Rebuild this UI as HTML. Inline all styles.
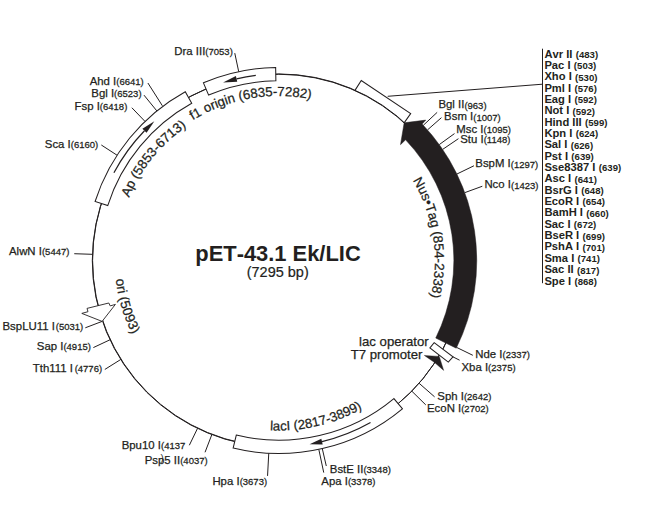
<!DOCTYPE html>
<html><head><meta charset="utf-8"><title>pET-43.1 Ek/LIC</title>
<style>
html,body{margin:0;padding:0;background:#fff;}
body{width:660px;height:529px;overflow:hidden;}
svg{display:block;}
text{font-family:"Liberation Sans",sans-serif;fill:#231f20;font-kerning:none;}
</style></head><body>
<svg width="660" height="529" viewBox="0 0 660 529">
<defs>
<path id="cAp" d="M128.99,197.66 A162.5,162.5 0 0 1 250.63,100.47"/>
<path id="cF1" d="M192.9,120.24 A164.5,164.5 0 0 1 384.59,134.49"/>
<path id="cNus" d="M412.71,180.39 A156,156 0 0 1 379.12,380"/>
<path id="cOri" d="M115.74,279.37 A164.2,164.2 0 0 0 222.69,414.8"/>
<path id="cLac" d="M269.95,430.27 A170,170 0 0 0 426.07,345.5"/>
</defs>
<circle cx="278.99" cy="260.36" r="186.4" fill="none" stroke="#231f20" stroke-width="1.0"/>
<circle cx="278.71" cy="260.64" r="186.4" fill="none" stroke="#231f20" stroke-width="1.0"/>
<path d="M203.44,82.84 A193,193 0 0 1 275.65,67.53 L275.87,80.82 A179.7,179.7 0 0 0 208.64,95.09 Z" fill="#fff" stroke="#231f20" stroke-width="1.05"/>
<path d="M95.09,201.5 A193,193 0 0 1 185.28,91.7 L191.73,103.33 A179.7,179.7 0 0 0 107.75,205.57 Z" fill="#fff" stroke="#231f20" stroke-width="1.05"/>
<path d="M402.39,408.78 A193,193 0 0 1 233.14,448.01 L236.29,435.09 A179.7,179.7 0 0 0 393.88,398.56 Z" fill="#fff" stroke="#231f20" stroke-width="1.05"/>
<polyline points="354.96,90.35 361.27,80.47 410.68,113.57 404.3,122.63" fill="none" stroke="#231f20" stroke-width="1.05"/>
<path d="M456.26,348.18 A197.9,197.9 0 0 0 422.16,124.02 L425.76,120.11 L404.16,122.78 L400.51,144.64 L405.58,139.82 A175,175 0 0 1 435.74,338.04 Z" fill="#231f20" stroke="#231f20" stroke-width="0.5"/>
<path d="M434.15,342.7 L453,356.9 L448.3,362.1 L429.9,347.9 Z" fill="#fff" stroke="#231f20" stroke-width="1.05"/>
<path d="M439.3,356.4 L424.3,355.4 L434.6,362.6 L443.7,370.4 Z" fill="#231f20" stroke="#231f20" stroke-width="0.4"/>
<path d="M102.1,321.4 L115.4,304.4 L110.2,305.9 L108.8,303 L87,308.4 L88,311.7 L81.8,313.4 Z" fill="#fff" stroke="#231f20" stroke-width="0.9" stroke-linejoin="miter"/>
<path d="M255.8,75.43 A186.5,186.5 0 0 0 236.58,78.85" fill="none" stroke="#231f20" stroke-width="1.2"/>
<path d="M235.9,75.93 L223.08,82.53 L237.26,81.78 Z" fill="#231f20"/>
<path d="M113.92,172.8 A186.8,186.8 0 0 1 144.48,130.74" fill="none" stroke="#231f20" stroke-width="1.2"/>
<path d="M142.39,128.72 L154.34,121.25 L146.56,132.75 Z" fill="#231f20"/>
<path d="M370.54,422.56 A186.2,186.2 0 0 1 322,441.63" fill="none" stroke="#231f20" stroke-width="1.2"/>
<path d="M322.67,444.45 L309.58,444.15 L321.33,438.81 Z" fill="#231f20"/>
<line x1="238.72" y1="71.72" x2="234.77" y2="53.13" stroke="#231f20" stroke-width="1"/>
<line x1="156.87" y1="110.94" x2="143.97" y2="95.13" stroke="#231f20" stroke-width="1"/>
<line x1="145.02" y1="121.43" x2="131.85" y2="107.74" stroke="#231f20" stroke-width="1"/>
<line x1="117.08" y1="155.24" x2="101.32" y2="144.99" stroke="#231f20" stroke-width="1"/>
<line x1="92.55" y1="254.32" x2="74.26" y2="253.71" stroke="#231f20" stroke-width="1"/>
<line x1="110.12" y1="339.72" x2="93.37" y2="347.58" stroke="#231f20" stroke-width="1"/>
<line x1="120.86" y1="359.41" x2="104.84" y2="369.44" stroke="#231f20" stroke-width="1"/>
<line x1="197.58" y1="428.25" x2="189.34" y2="445.26" stroke="#231f20" stroke-width="1"/>
<line x1="211.9" y1="434.46" x2="205.04" y2="452.29" stroke="#231f20" stroke-width="1"/>
<line x1="268.75" y1="453.24" x2="267.56" y2="475.9" stroke="#231f20" stroke-width="1"/>
<line x1="322.27" y1="448.55" x2="326.29" y2="465.99" stroke="#231f20" stroke-width="1"/>
<line x1="318.81" y1="449.32" x2="323.74" y2="472.6" stroke="#231f20" stroke-width="1"/>
<line x1="419.1" y1="383.28" x2="434.6" y2="396.85" stroke="#231f20" stroke-width="1"/>
<line x1="411.8" y1="391.15" x2="425.78" y2="404.89" stroke="#231f20" stroke-width="1"/>
<line x1="456.65" y1="347.41" x2="472.82" y2="355.31" stroke="#231f20" stroke-width="1"/>
<line x1="464.76" y1="192.65" x2="482.32" y2="186.24" stroke="#231f20" stroke-width="1"/>
<line x1="456.87" y1="174.06" x2="473.96" y2="165.76" stroke="#231f20" stroke-width="1"/>
<line x1="442.63" y1="149.41" x2="458.43" y2="138.68" stroke="#231f20" stroke-width="1"/>
<line x1="439.26" y1="144.6" x2="454.5" y2="133.59" stroke="#231f20" stroke-width="1"/>
<line x1="427.53" y1="129.89" x2="441.42" y2="117.68" stroke="#231f20" stroke-width="1"/>
<line x1="423.35" y1="125.28" x2="437.15" y2="112.37" stroke="#231f20" stroke-width="1"/>
<line x1="147.9" y1="83" x2="162.4" y2="105.8" stroke="#231f20" stroke-width="1"/>
<line x1="453" y1="356.9" x2="459.6" y2="360.2" stroke="#231f20" stroke-width="1"/>
<line x1="85.3" y1="327.8" x2="102.1" y2="321.4" stroke="#231f20" stroke-width="1"/>
<line x1="387.7" y1="96.3" x2="542.5" y2="84.2" stroke="#231f20" stroke-width="1"/>
<line x1="542.5" y1="48.7" x2="542.5" y2="283.2" stroke="#231f20" stroke-width="1"/>
<text x="174.3" y="55.4" font-size="11.4" stroke="#231f20" stroke-width="0.25">Dra III</text>
<text transform="translate(205.34,55.4) scale(1,1.04)" font-size="9.5" stroke="#231f20" stroke-width="0.25">(7053)</text>
<text x="89.7" y="85.2" font-size="11.4" stroke="#231f20" stroke-width="0.25">Ahd I</text>
<text transform="translate(116.32,85.2) scale(1,1.04)" font-size="9.5" stroke="#231f20" stroke-width="0.25">(6641)</text>
<text x="91.3" y="97.3" font-size="11.4" stroke="#231f20" stroke-width="0.25">Bgl I</text>
<text transform="translate(114.11,97.3) scale(1,1.04)" font-size="9.5" stroke="#231f20" stroke-width="0.25">(6523)</text>
<text x="74.5" y="109.7" font-size="11.4" stroke="#231f20" stroke-width="0.25">Fsp I</text>
<text transform="translate(99.84,109.7) scale(1,1.04)" font-size="9.5" stroke="#231f20" stroke-width="0.25">(6418)</text>
<text x="44.8" y="148.4" font-size="11.4" stroke="#231f20" stroke-width="0.25">Sca I</text>
<text transform="translate(70.78,148.4) scale(1,1.04)" font-size="9.5" stroke="#231f20" stroke-width="0.25">(6160)</text>
<text x="9" y="255.2" font-size="11.4" stroke="#231f20" stroke-width="0.25">AlwN I</text>
<text transform="translate(41.94,255.2) scale(1,1.04)" font-size="9.5" stroke="#231f20" stroke-width="0.25">(5447)</text>
<text x="2.5" y="329.7" font-size="11.4" stroke="#231f20" stroke-width="0.25" style="font-kerning:normal">BspLU11 I</text>
<text transform="translate(55.73,329.7) scale(1,1.04)" font-size="9.5" stroke="#231f20" stroke-width="0.25">(5031)</text>
<text x="36.8" y="349.8" font-size="11.4" stroke="#231f20" stroke-width="0.25">Sap I</text>
<text transform="translate(63.42,349.8) scale(1,1.04)" font-size="9.5" stroke="#231f20" stroke-width="0.25">(4915)</text>
<text x="32.8" y="371.6" font-size="11.4" stroke="#231f20" stroke-width="0.25" style="font-kerning:normal">Tth111 I</text>
<text transform="translate(74.63,371.6) scale(1,1.04)" font-size="9.5" stroke="#231f20" stroke-width="0.25">(4776)</text>
<text x="121.7" y="448.6" font-size="11.4" stroke="#231f20" stroke-width="0.25">Bpu10 I</text>
<text transform="translate(161,448.6) scale(1,1.04)" font-size="9.5" stroke="#231f20" stroke-width="0.25">(4137</text>
<text x="144.7" y="464.2" font-size="11.4" stroke="#231f20" stroke-width="0.25">Psp5 II</text>
<text transform="translate(180.19,464.2) scale(1,1.04)" font-size="9.5" stroke="#231f20" stroke-width="0.25">(4037)</text>
<text x="212.4" y="485.2" font-size="11.4" stroke="#231f20" stroke-width="0.25">Hpa I</text>
<text transform="translate(239.65,485.2) scale(1,1.04)" font-size="9.5" stroke="#231f20" stroke-width="0.25">(3673)</text>
<text x="329.8" y="473.2" font-size="11.4" stroke="#231f20" stroke-width="0.25">BstE II</text>
<text transform="translate(363.38,473.2) scale(1,1.04)" font-size="9.5" stroke="#231f20" stroke-width="0.25">(3348)</text>
<text x="321.3" y="485.3" font-size="11.4" stroke="#231f20" stroke-width="0.25">Apa I</text>
<text transform="translate(347.92,485.3) scale(1,1.04)" font-size="9.5" stroke="#231f20" stroke-width="0.25">(3378)</text>
<text x="437.3" y="399.7" font-size="11.4" stroke="#231f20" stroke-width="0.25">Sph I</text>
<text transform="translate(463.92,399.7) scale(1,1.04)" font-size="9.5" stroke="#231f20" stroke-width="0.25">(2642)</text>
<text x="427" y="411.8" font-size="11.4" stroke="#231f20" stroke-width="0.25">EcoN I</text>
<text transform="translate(461.21,411.8) scale(1,1.04)" font-size="9.5" stroke="#231f20" stroke-width="0.25">(2702)</text>
<text x="461.5" y="370.9" font-size="11.4" stroke="#231f20" stroke-width="0.25">Xba I</text>
<text transform="translate(488.12,370.9) scale(1,1.04)" font-size="9.5" stroke="#231f20" stroke-width="0.25">(2375)</text>
<text x="475.3" y="357.9" font-size="11.4" stroke="#231f20" stroke-width="0.25">Nde I</text>
<text transform="translate(502.55,357.9) scale(1,1.04)" font-size="9.5" stroke="#231f20" stroke-width="0.25">(2337)</text>
<text x="484.4" y="187.7" font-size="11.4" stroke="#231f20" stroke-width="0.25">Nco I</text>
<text transform="translate(511.01,188.6) scale(1,1.04)" font-size="9.5" stroke="#231f20" stroke-width="0.25">(1423)</text>
<text x="475.3" y="167.3" font-size="11.4" stroke="#231f20" stroke-width="0.25">BspM I</text>
<text transform="translate(510.77,168.2) scale(1,1.04)" font-size="9.5" stroke="#231f20" stroke-width="0.25">(1297)</text>
<text x="460.2" y="143.4" font-size="11.4" stroke="#231f20" stroke-width="0.25">Stu I</text>
<text transform="translate(483.65,143.4) scale(1,1.04)" font-size="9.5" stroke="#231f20" stroke-width="0.25" style="font-kerning:normal">(1148)</text>
<text x="456.3" y="132.7" font-size="11.4" stroke="#231f20" stroke-width="0.25">Msc I</text>
<text transform="translate(483.53,132.7) scale(1,1.04)" font-size="9.5" stroke="#231f20" stroke-width="0.25">(1095)</text>
<text x="444.1" y="120" font-size="11.4" stroke="#231f20" stroke-width="0.25">Bsm I</text>
<text transform="translate(473.23,120.6) scale(1,1.04)" font-size="9.5" stroke="#231f20" stroke-width="0.25">(1007)</text>
<text x="438.4" y="108.2" font-size="11.4" stroke="#231f20" stroke-width="0.25">Bgl II</text>
<text transform="translate(464.38,108.7) scale(1,1.04)" font-size="9.5" stroke="#231f20" stroke-width="0.25">(963)</text>
<text x="160.6" y="460.6" font-size="9.6">)</text>
<text x="359.1" y="345.8" font-size="13.2" stroke="#231f20" stroke-width="0.25">lac operator</text>
<text x="350.7" y="359.4" font-size="13.2" stroke="#231f20" stroke-width="0.25">T7 promoter</text>
<text x="544.4" y="57.6" font-size="11.2" font-weight="bold">Avr II</text>
<text transform="translate(575.72,58) scale(1,1.04)" font-size="9.6" font-weight="bold">(483)</text>
<text x="544.4" y="68.95" font-size="11.2" font-weight="bold">Pac I</text>
<text transform="translate(573.86,69.35) scale(1,1.04)" font-size="9.6" font-weight="bold">(503)</text>
<text x="544.4" y="80.29" font-size="11.2" font-weight="bold">Xho I</text>
<text transform="translate(575.09,80.69) scale(1,1.04)" font-size="9.6" font-weight="bold">(530)</text>
<text x="544.4" y="91.64" font-size="11.2" font-weight="bold">Pml I</text>
<text transform="translate(574.48,92.04) scale(1,1.04)" font-size="9.6" font-weight="bold">(576)</text>
<text x="544.4" y="102.98" font-size="11.2" font-weight="bold">Eag I</text>
<text transform="translate(574.48,103.38) scale(1,1.04)" font-size="9.6" font-weight="bold">(592)</text>
<text x="544.4" y="114.33" font-size="11.2" font-weight="bold">Not I</text>
<text transform="translate(572.59,114.73) scale(1,1.04)" font-size="9.6" font-weight="bold">(592)</text>
<text x="544.4" y="125.67" font-size="11.2" font-weight="bold">Hind III</text>
<text transform="translate(585.04,126.07) scale(1,1.04)" font-size="9.6" font-weight="bold">(599)</text>
<text x="544.4" y="137.02" font-size="11.2" font-weight="bold">Kpn I</text>
<text transform="translate(575.71,137.42) scale(1,1.04)" font-size="9.6" font-weight="bold">(624)</text>
<text x="544.4" y="148.36" font-size="11.2" font-weight="bold">Sal I</text>
<text transform="translate(570.75,148.76) scale(1,1.04)" font-size="9.6" font-weight="bold">(626)</text>
<text x="544.4" y="159.71" font-size="11.2" font-weight="bold">Pst I</text>
<text transform="translate(571.36,160.11) scale(1,1.04)" font-size="9.6" font-weight="bold">(639)</text>
<text x="544.4" y="171.05" font-size="11.2" font-weight="bold">Sse8387 I</text>
<text transform="translate(598.78,171.45) scale(1,1.04)" font-size="9.6" font-weight="bold">(639)</text>
<text x="544.4" y="182.4" font-size="11.2" font-weight="bold">Asc I</text>
<text transform="translate(574.48,182.8) scale(1,1.04)" font-size="9.6" font-weight="bold">(641)</text>
<text x="544.4" y="193.74" font-size="11.2" font-weight="bold">BsrG I</text>
<text transform="translate(581.32,194.14) scale(1,1.04)" font-size="9.6" font-weight="bold">(648)</text>
<text x="544.4" y="205.09" font-size="11.2" font-weight="bold">EcoR I</text>
<text transform="translate(582.56,205.49) scale(1,1.04)" font-size="9.6" font-weight="bold">(654)</text>
<text x="544.4" y="216.43" font-size="11.2" font-weight="bold">BamH I</text>
<text transform="translate(586.3,216.83) scale(1,1.04)" font-size="9.6" font-weight="bold">(660)</text>
<text x="544.4" y="227.78" font-size="11.2" font-weight="bold">Sac I</text>
<text transform="translate(573.86,228.18) scale(1,1.04)" font-size="9.6" font-weight="bold">(672)</text>
<text x="544.4" y="239.12" font-size="11.2" font-weight="bold">BseR I</text>
<text transform="translate(582.57,239.52) scale(1,1.04)" font-size="9.6" font-weight="bold">(699)</text>
<text x="544.4" y="250.47" font-size="11.2" font-weight="bold">PshA I</text>
<text transform="translate(582.56,250.87) scale(1,1.04)" font-size="9.6" font-weight="bold">(701)</text>
<text x="544.4" y="261.81" font-size="11.2" font-weight="bold">Sma I</text>
<text transform="translate(577.59,262.21) scale(1,1.04)" font-size="9.6" font-weight="bold">(741)</text>
<text x="544.4" y="273.16" font-size="11.2" font-weight="bold">Sac II</text>
<text transform="translate(576.98,273.56) scale(1,1.04)" font-size="9.6" font-weight="bold">(817)</text>
<text x="544.4" y="284.5" font-size="11.2" font-weight="bold">Spe I</text>
<text transform="translate(574.48,284.9) scale(1,1.04)" font-size="9.6" font-weight="bold">(868)</text>
<text transform="translate(278.0,261.1) scale(1,1.04)" font-size="21.9" font-weight="bold" text-anchor="middle">pET-43.1 Ek/LIC</text>
<text transform="translate(277.7,276.6) scale(1,1.03)" font-size="14.5" text-anchor="middle" stroke="#231f20" stroke-width="0.2">(7295 bp)</text>
<text font-size="13.3" stroke="#231f20" stroke-width="0.25"><textPath href="#cAp">Ap (5853-6713)</textPath></text>
<text font-size="13.2" stroke="#231f20" stroke-width="0.25"><textPath href="#cF1">f1 origin (6835-7282)</textPath></text>
<text font-size="13.4" stroke="#231f20" stroke-width="0.25"><textPath href="#cNus">Nus•Tag (854-2338)</textPath></text>
<text font-size="13.5" stroke="#231f20" stroke-width="0.25"><textPath href="#cOri">ori (5093)</textPath></text>
<text font-size="13.2" stroke="#231f20" stroke-width="0.25"><textPath href="#cLac">lacI (2817-3899)</textPath></text>
</svg>
</body></html>
